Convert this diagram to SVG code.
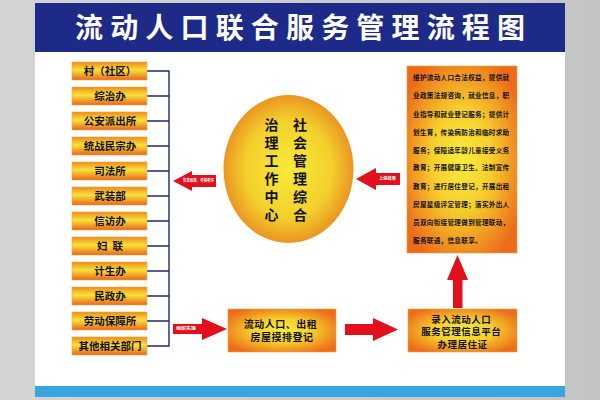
<svg xmlns="http://www.w3.org/2000/svg" width="600" height="400" viewBox="0 0 600 400">
<defs>
<linearGradient id="gBox" x1="0" y1="0" x2="0" y2="1">
<stop offset="0" stop-color="#ef8a1c"/>
<stop offset="0.45" stop-color="#f8e23a"/>
<stop offset="1" stop-color="#e9661a"/>
</linearGradient>
<radialGradient id="gWide" cx="0.5" cy="0.5" r="0.6">
<stop offset="0" stop-color="#f9ec3e"/>
<stop offset="0.45" stop-color="#f6cf2c"/>
<stop offset="1" stop-color="#ec6c1a"/>
</radialGradient>
<radialGradient id="gEll" cx="0.5" cy="0.5" r="0.55">
<stop offset="0" stop-color="#f7ea3a"/>
<stop offset="0.6" stop-color="#f3d02c"/>
<stop offset="1" stop-color="#e8841e"/>
</radialGradient>
<linearGradient id="gBg" x1="0" y1="0" x2="1" y2="0">
<stop offset="0" stop-color="#d4d4d4"/>
<stop offset="1" stop-color="#c4c4c4"/>
</linearGradient>
</defs>
<style>
.box{fill:url(#gBox);stroke:#f2a64a;stroke-width:0.6}
.wide{fill:url(#gWide);stroke:#f2a04a;stroke-width:0.6}
.t{font-family:"Noto Sans CJK SC","Noto Sans",sans-serif;font-weight:bold;fill:#111}
.lt{font-size:10.5px;text-anchor:middle}
.vt{font-size:14px;writing-mode:vertical-rl;letter-spacing:4px}
.arr{fill:#e1101c}
.lbl{font-family:"Noto Sans CJK SC",sans-serif;font-weight:bold;fill:#fff;font-size:4px}
.ln{stroke:#1f2a6e;stroke-width:1.4;fill:none}
</style>
<rect x="0" y="0" width="600" height="400" fill="url(#gBg)"/>
<rect x="35" y="3" width="530" height="394" fill="#ffffff"/>
<g id="title">
<rect x="35" y="3" width="530" height="49" fill="#1e2a88"/>
<text x="75" y="38" textLength="450" lengthAdjust="spacing" font-family="Noto Sans CJK SC, sans-serif" font-weight="bold" font-size="28" fill="#ffffff">流动人口联合服务管理流程图</text>
</g>
<rect x="35" y="386" width="530" height="11" fill="#3aa4de"/>

<g id="connectors">
<path class="ln" d="M147 71H169M147 96H169M147 121H169M147 146H169M147 171H169M147 196H169M147 221H169M147 246H169M147 271H169M147 296H169M147 321H169M147 346H169M169 70.3V346.7"/>
<g id="arrow-feedback">
<polygon class="arr" points="173,181 192,171 192,175 216,175 216,187 192,187 192,191"/>
<text class="lbl" x="183" y="182.4" textLength="31" lengthAdjust="spacingAndGlyphs">信息反馈、考核考评</text>
</g>
<g id="arrow-report">
<polygon class="arr" points="356,179 376,168 376,173 400,173 400,185 376,185 376,190"/>
<text class="lbl" x="379" y="180.4" textLength="17" lengthAdjust="spacingAndGlyphs">上报结果</text>
</g>
<g id="arrow-organize">
<polygon class="arr" points="173,324 202,324 202,318 227,329 202,340 202,334 173,334"/>
<text class="lbl" x="176" y="330.4" textLength="20" lengthAdjust="spacingAndGlyphs">组织实施</text>
</g>
<polygon id="arrow-mid" class="arr" points="345,324 373,324 373,318 398,329.5 373,341 373,335 345,335"/>
<polygon id="arrow-up" class="arr" points="457.5,255 468,280 462.5,280 462.5,308 453,308 453,280 447,280"/>
</g>

<g id="n1"><rect class="box" x="72" y="62" width="75" height="18"/><text class="t lt" x="110" y="75">村（社区）</text></g>
<g id="n2"><rect class="box" x="72" y="87" width="75" height="18"/><text class="t lt" x="110" y="100">综治办</text></g>
<g id="n3"><rect class="box" x="72" y="112" width="75" height="18"/><text class="t lt" x="110" y="125">公安派出所</text></g>
<g id="n4"><rect class="box" x="72" y="137" width="75" height="18"/><text class="t lt" x="110" y="150">统战民宗办</text></g>
<g id="n5"><rect class="box" x="72" y="162" width="75" height="18"/><text class="t lt" x="110" y="175">司法所</text></g>
<g id="n6"><rect class="box" x="72" y="187" width="75" height="18"/><text class="t lt" x="110" y="200">武装部</text></g>
<g id="n7"><rect class="box" x="72" y="212" width="75" height="18"/><text class="t lt" x="110" y="225">信访办</text></g>
<g id="n8"><rect class="box" x="72" y="237" width="75" height="18"/><text class="t lt" x="110" y="250" xml:space="preserve">妇  联</text></g>
<g id="n9"><rect class="box" x="72" y="262" width="75" height="18"/><text class="t lt" x="110" y="275">计生办</text></g>
<g id="n10"><rect class="box" x="72" y="287" width="75" height="18"/><text class="t lt" x="110" y="300">民政办</text></g>
<g id="n11"><rect class="box" x="72" y="312" width="75" height="18"/><text class="t lt" x="110" y="325">劳动保障所</text></g>
<g id="n12"><rect class="box" x="72" y="337" width="75" height="18"/><text class="t lt" x="110" y="350">其他相关部门</text></g>

<g id="center">
<ellipse cx="288.5" cy="169" rx="65" ry="74" fill="url(#gEll)"/>
<text class="t vt" x="300" y="118">社会管理综合</text>
<text class="t vt" x="271.5" y="118">治理工作中心</text>
</g>

<g id="services">
<rect class="wide" x="407" y="66" width="110" height="187"/>
<text class="t" font-size="6.6" letter-spacing="0.3">
<tspan x="413" y="80">维护流动人口合法权益，提供就</tspan>
<tspan x="413" y="98">业政策法规咨询，就业信息，职</tspan>
<tspan x="413" y="116.5">业指导和就业登记服务；提供计</tspan>
<tspan x="413" y="134.5">划生育，传染病防治和临时求助</tspan>
<tspan x="413" y="152.5">服务；保障适年龄儿童接受义务</tspan>
<tspan x="413" y="170">教育；开展健康卫生、法制宣传</tspan>
<tspan x="413" y="188.5">教育；进行居住登记，开展出租</tspan>
<tspan x="413" y="206.5">房屋星级评定管理；落实外出人</tspan>
<tspan x="413" y="225">员双向衔接管理做到管理联动，</tspan>
<tspan x="413" y="243">服务联通，信息联享。</tspan>
</text>
</g>

<g id="register">
<rect class="wide" x="228" y="309" width="108" height="43"/>
<text class="t" font-size="10" text-anchor="middle" letter-spacing="0.5">
<tspan x="282" y="327.5">流动人口、出租</tspan>
<tspan x="282" y="341">房屋摸排登记</tspan>
</text>
</g>

<g id="platform">
<rect class="wide" x="408" y="309" width="109" height="43"/>
<text class="t" font-size="9.5" text-anchor="middle" letter-spacing="0.5">
<tspan x="462.5" y="322.5">录入流动人口</tspan>
<tspan x="462.5" y="335">服务管理信息平台</tspan>
<tspan x="462.5" y="347.5">办理居住证</tspan>
</text>
</g>
</svg>
